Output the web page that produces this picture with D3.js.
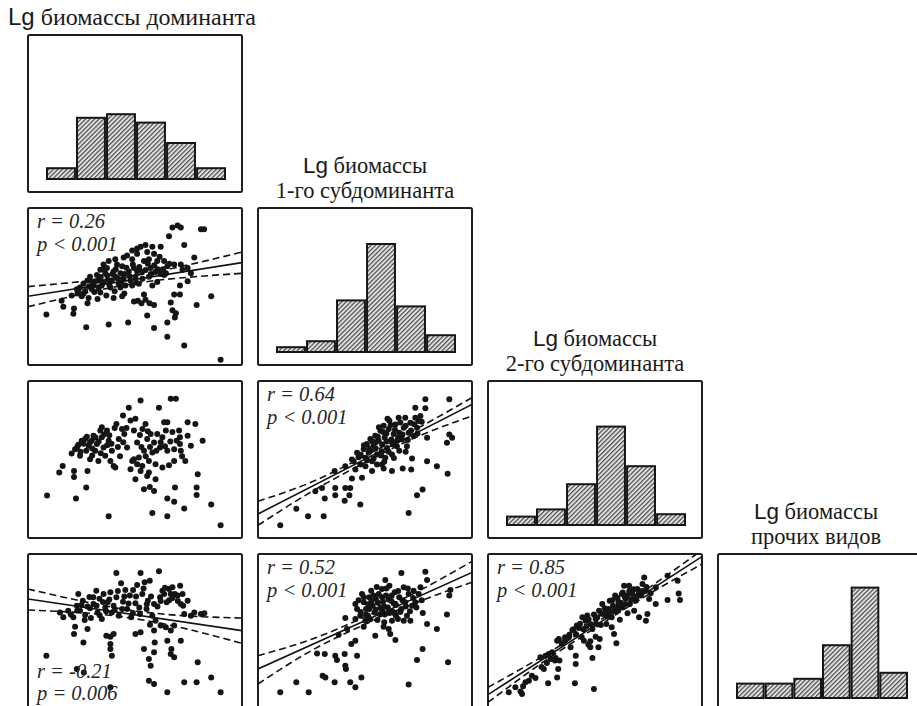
<!DOCTYPE html>
<html lang="ru">
<head>
<meta charset="utf-8">
<title>Lg биомассы</title>
<script src="https://cdn.jsdelivr.net/npm/d3@7"></script>
<style>
body { margin: 0; background: #fff; }
.ttl { font-size: 22.5px; fill: #1a1a1a; }
.stat { font-family: "Liberation Serif", "Times New Roman", serif; font-style: italic; font-size: 20.5px; fill: #262626; }
</style>
</head>
<body>
<script>
// titles of the variables (diagonal)
var titles = [
  ["Lg биомассы доминанта"],
  ["Lg биомассы", "1-го субдоминанта"],
  ["Lg биомассы", "2-го субдоминанта"],
  ["Lg биомассы", "прочих видов"]
];

// histogram counts, 6 bins each
var hist0 = [9, 51, 54, 47, 30, 9];
var hist1 = [4, 9, 43, 90, 38, 14];
var hist2 = [7, 13, 34, 82, 49, 9];
var hist3 = [12, 12, 16, 44, 92, 21];

// scatter points, [x, y] in 0..100 of the cell (row, col)
var pts10 = [[8.6,32.1],[16.5,37.1],[15.7,40.9],[21.2,32.6],[21.5,36.0],[20.4,44.3],[23.1,45.6],[27.2,24.0],[37.7,25.8],[46.8,27.0],
  [27.8,39.3],[28.3,42.7],[32.5,42.0],[36.6,44.3],[40.0,42.7],[44.0,43.8],[24.3,49.4],[25.9,51.7],[27.8,53.9],[29.0,56.2],
  [30.6,50.6],[32.2,57.3],[32.9,53.9],[33.8,60.7],[34.5,50.6],[36.1,58.4],[36.9,61.8],[37.7,53.9],[38.5,49.4],[40.0,59.6],
  [40.8,56.2],[41.6,64.0],[42.4,51.7],[43.2,58.4],[44.0,62.9],[44.7,55.1],[45.5,50.6],[46.3,69.7],[47.1,59.6],[47.9,53.9],
  [48.7,67.4],[49.5,61.8],[50.2,56.2],[51.0,70.8],[51.8,51.7],[52.6,75.3],[53.4,59.6],[54.2,66.3],[54.9,76.4],[55.7,71.9],
  [56.5,56.2],[57.3,61.8],[58.9,70.8],[59.6,59.3],[60.4,66.3],[62.0,75.3],[62.0,58.0],[63.6,66.3],[65.1,62.9],[65.9,82.0],
  [67.5,87.6],[69.9,88.8],[71.4,87.6],[80.8,86.5],[82.3,86.5],[73.0,76.4],[71.4,64.0],[72.2,60.7],[77.7,68.5],[76.1,58.4],
  [49.5,40.4],[51.3,40.9],[53.0,39.3],[54.9,41.6],[56.8,39.3],[58.9,38.2],[54.2,44.9],[55.7,31.5],[58.9,23.6],[65.1,27.0],
  [65.1,18.0],[68.6,30.3],[67.5,34.8],[66.7,39.8],[68.3,44.9],[71.0,44.9],[71.0,50.6],[73.0,12.4],[74.6,53.3],[85.6,43.8],
  [78.8,38.2],[90.0,3.4],[69.1,33.0],[26.7,47.2],[29.8,48.3],[31.4,53.3],[35.3,52.8],[39.2,53.9],[43.2,49.4],[48.7,50.6],
  [51.0,59.6],[58.1,50.6],[60.4,52.8],[63.6,57.3],[35.3,64.0],[37.7,66.3],[40.8,67.4],[44.7,68.5],[48.7,73.0],[51.0,74.2],
  [56.5,67.4],[58.1,75.3],[68.3,64.0],[74.6,61.8],[25.1,43.8],[33.8,46.1],[22.8,48.3],
  [28.5,50.0],[30.0,53.0],[31.0,46.5],[33.0,49.0],[34.0,56.0],[35.5,61.0],[37.0,57.0],[38.0,51.0],[39.5,58.0],[41.0,61.0],
  [42.0,55.0],[43.5,52.5],[45.0,58.0],[46.0,62.0],[47.5,56.5],[49.0,64.0],[50.5,52.5],[52.0,62.5],[53.5,55.0],[55.0,60.5],
  [56.0,64.5],[57.5,58.0],[59.0,63.5],[60.5,61.0],[61.5,69.0],[63.0,61.0],[64.5,58.5],[66.0,64.5],[23.5,47.0],[26.0,45.5],
  [40.5,47.0],[45.0,45.5]];

var pts20 = [[8.9,27.1],[22.4,25.2],[27.2,32.1],[37.7,13.9],[14.6,41.7],[16.2,45.9],[21.5,42.7],[21.5,38.9],[27.8,42.7],[20.4,53.8],
  [22.0,56.6],[23.5,59.4],[25.1,62.0],[24.3,52.4],[26.7,63.0],[27.2,55.6],[28.3,58.8],[29.0,50.2],[29.8,62.0],[30.6,65.2],
  [31.4,55.6],[32.2,59.8],[32.9,49.1],[33.8,68.4],[34.5,64.1],[34.5,70.5],[35.3,57.7],[36.1,52.4],[36.9,68.4],[37.7,62.0],
  [38.5,49.1],[39.2,55.6],[40.0,45.9],[40.8,44.9],[41.3,72.6],[42.4,63.0],[43.9,69.4],[44.4,78.0],[45.0,66.2],[46.3,57.7],
  [47.1,82.9],[47.9,74.8],[48.7,49.1],[49.5,68.4],[50.2,75.9],[51.0,60.9],[51.8,51.3],[52.3,65.6],[52.6,87.6],[52.6,42.7],
  [53.4,45.9],[54.2,55.6],[54.9,72.6],[55.7,63.0],[56.5,49.1],[56.5,41.7],[57.3,66.2],[58.1,54.5],[58.9,60.9],[59.6,47.0],
  [50.2,37.4],[55.7,39.5],[59.6,37.4],[54.2,31.0],[56.9,32.5],[58.9,29.9],[61.2,82.9],[61.7,57.7],[62.8,64.1],[62.8,44.9],
  [63.6,73.7],[65.1,73.7],[64.4,68.4],[65.1,55.6],[65.9,46.4],[66.7,88.7],[69.1,88.7],[67.5,67.5],[68.3,56.6],[68.3,49.1],
  [70.6,68.4],[71.0,64.1],[71.0,59.8],[71.4,55.6],[73.5,49.1],[74.6,73.7],[74.6,65.2],[76.1,58.8],[78.2,72.6],[81.6,62.0],
  [65.1,25.2],[68.3,23.1],[68.7,32.1],[73.0,18.8],[58.1,16.0],[65.1,13.9],[79.3,40.6],[78.8,32.1],[78.8,27.4],[85.6,21.4],
  [90.0,8.1],[49.5,50.2],[47.9,43.8],[51.0,47.0],[60.4,66.2],
  [23.0,58.0],[24.5,55.0],[26.0,60.0],[27.5,64.5],[29.0,61.0],[30.0,57.0],[31.5,64.0],[33.0,61.5],[34.0,54.0],[35.5,66.0],
  [37.0,59.0],[38.0,65.5],[39.0,60.0],[40.5,70.0],[42.0,58.0],[43.0,52.0],[44.5,61.0],[46.0,70.0],[53.0,58.0],[55.0,52.0],
  [57.0,58.0],[60.0,55.5],[62.0,61.0],[64.0,58.5],[66.5,61.5],[69.5,62.0],[72.0,52.0],[56.0,68.0],[53.5,69.5],[30.0,52.5]];

var pts30 = [[8.6,35.2],[41.3,87.9],[52.6,87.9],[61.2,89.0],[14.9,62.8],[16.5,59.7],[18.8,63.9],[21.2,59.7],[22.8,67.1],[23.5,74.5],
  [24.3,63.9],[25.6,70.3],[26.7,61.1],[27.8,66.5],[28.7,72.6],[29.4,59.2],[30.6,68.2],[31.9,76.6],[32.5,62.8],[33.4,71.5],
  [34.5,58.6],[35.3,74.5],[36.1,66.0],[37.2,69.2],[38.5,75.6],[39.2,62.8],[40.0,67.1],[41.3,72.4],[42.4,60.7],[43.5,81.3],
  [44.4,69.6],[45.5,77.0],[46.3,65.0],[47.6,73.5],[48.2,59.7],[49.1,77.0],[50.2,68.6],[51.0,80.3],[52.3,61.8],[53.4,74.5],
  [54.5,82.0],[55.4,65.0],[56.0,70.3],[56.9,83.0],[58.1,60.7],[58.9,68.2],[59.6,57.5],[61.7,72.4],[62.8,76.6],[63.6,74.5],
  [64.8,69.2],[65.9,77.7],[66.7,74.5],[67.5,78.8],[68.6,74.5],[69.9,73.5],[71.1,79.8],[71.4,68.2],[72.2,74.5],[73.0,61.8],
  [74.6,70.3],[76.1,60.7],[77.7,62.8],[80.8,61.8],[82.4,62.2],[68.3,54.4],[66.7,51.2],[64.4,53.3],[62.0,54.4],[58.9,51.2],
  [52.6,50.1],[50.2,49.0],[22.0,53.7],[21.5,49.0],[27.8,52.2],[25.9,43.7],[36.6,48.0],[38.5,47.3],[40.0,49.0],[38.5,42.7],
  [39.2,35.2],[38.5,39.5],[54.2,39.5],[56.5,33.1],[57.3,28.9],[58.9,37.4],[59.2,43.7],[65.1,44.8],[66.7,36.3],[68.3,34.2],
  [67.0,39.5],[71.4,44.8],[79.3,31.0],[85.6,21.4],[73.0,18.3],[78.8,18.3],[56.5,19.3],[58.9,17.2],[65.1,11.9],[90.0,11.9],
  [38.5,15.1],[22.8,26.8],[26.1,24.6],
  [20.0,61.5],[23.0,64.0],[25.0,67.5],[26.5,58.0],[29.0,65.5],[30.5,72.5],[32.0,67.0],[33.5,61.0],[35.0,69.5],[36.5,63.5],
  [38.0,71.0],[40.5,64.5],[42.0,76.5],[44.0,65.0],[45.0,73.0],[47.0,68.5],[49.0,62.5],[50.5,73.0],[52.0,66.0],[54.0,78.0],
  [55.5,68.0],[57.5,73.0],[60.5,66.5],[62.0,70.0],[64.0,78.5],[66.0,70.5],[67.5,72.0],[70.0,70.0],[72.5,67.0],[57.0,55.0]];

var pts21 = [[10.4,8.1],[17.9,18.7],[23.4,13.8],[30.7,13.8],[26.8,29.8],[29.9,31.9],[31.2,25.1],[36.1,31.9],[36.1,27.2],[40.8,31.9],
  [43.1,31.9],[42.7,27.2],[40.5,23.8],[47.8,21.3],[43.9,37.9],[35.8,42.6],[40.8,45.7],[44.7,48.9],[45.5,43.6],[48.6,38.3],
  [47.0,51.5],[43.9,50.0],[46.3,54.3],[47.8,46.8],[49.4,56.6],[50.2,51.1],[50.9,59.8],[51.7,54.3],[52.5,63.0],[53.3,48.9],
  [54.0,58.7],[54.8,65.1],[55.6,53.2],[56.4,61.9],[57.2,68.3],[57.9,55.3],[58.7,71.5],[59.2,64.0],[59.5,51.1],[60.3,57.4],
  [61.1,69.4],[61.4,74.7],[62.3,62.8],[62.6,53.2],[63.4,66.2],[64.2,72.3],[64.9,58.5],[65.7,76.6],[66.0,67.0],[67.3,62.8],
  [68.1,70.2],[68.8,76.6],[69.6,58.5],[70.4,67.0],[71.2,73.4],[72.0,50.6],[72.7,64.9],[73.5,76.6],[74.3,70.2],[75.1,74.5],
  [75.9,77.7],[73.5,83.0],[78.2,88.3],[78.2,82.6],[79.0,63.8],[79.0,48.9],[58.7,44.3],[62.6,42.6],[67.6,44.3],[71.6,43.6],
  [83.6,45.7],[88.6,40.9],[88.3,60.6],[89.4,66.0],[90.7,63.8],[89.4,88.3],[76.9,30.9],[74.3,27.2],[70.4,16.0],[55.6,46.8],
  [53.3,42.6],[57.9,46.8],[50.2,45.7],[55.0,61.0],[60.0,66.5],[65.5,64.0],[58.0,59.5],[52.0,57.0],
  [48.0,53.0],[49.5,59.0],[51.0,49.5],[52.5,55.5],[53.5,61.5],[55.0,57.0],[56.0,64.5],[57.5,52.5],[58.5,67.5],[60.0,61.5],
  [61.0,55.0],[62.0,72.0],[63.0,59.5],[64.0,69.0],[65.0,62.0],[66.5,73.5],[67.5,66.0],[69.0,71.5],[70.0,62.5],[71.5,68.5],
  [73.0,72.5],[74.5,66.5],[76.5,74.0],[54.0,50.5],[59.0,48.5],[63.5,51.0],[66.0,55.5],[69.0,55.0],[56.5,70.5],[60.5,76.0]];

var pts31 = [[10.4,11.9],[17.9,18.3],[23.7,11.9],[30.2,22.5],[31.5,21.4],[35.8,18.3],[43.1,18.3],[45.5,15.1],[48.3,21.4],[27.6,36.7],
  [31.2,36.3],[36.1,35.2],[36.9,32.5],[40.5,36.3],[40.8,28.9],[41.1,26.8],[46.3,35.2],[43.6,42.7],[45.5,44.8],[37.7,48.6],
  [41.6,52.2],[40.8,59.2],[45.5,58.6],[49.4,53.7],[54.8,48.0],[58.7,53.7],[61.1,52.2],[61.8,49.0],[64.2,45.2],[79.0,55.4],
  [83.6,52.2],[88.3,61.4],[76.9,39.5],[74.3,32.5],[88.8,31.0],[70.4,16.8],[67.0,87.9],[78.2,88.7],[79.0,83.4],[89.9,77.1],
  [89.4,73.5],[59.5,83.4],[48.6,74.5],[49.4,69.2],[50.5,65.0],[51.4,60.7],[52.0,72.4],[52.9,76.6],[53.6,67.1],[54.5,62.8],
  [55.1,71.3],[55.8,58.0],[56.4,74.5],[57.2,66.0],[57.9,77.7],[58.4,69.6],[59.2,61.4],[59.8,73.5],[60.7,66.0],[61.4,79.8],
  [62.3,70.0],[62.9,63.3],[63.9,75.6],[64.5,67.5],[65.4,58.6],[66.0,72.4],[67.0,65.0],[68.1,78.8],[68.8,69.2],[69.6,60.7],
  [70.4,74.5],[71.2,57.5],[72.0,67.1],[72.7,76.6],[73.5,69.2],[75.1,74.5],[75.9,78.8],[47.8,60.7],[46.3,65.0],[45.5,68.2],
  [50.2,57.5],[62.6,57.5],[68.1,57.5],[53.0,70.0],[58.0,64.0],[61.0,71.0],[64.0,62.0],
  [47.0,70.5],[48.0,63.0],[49.5,72.5],[50.5,61.5],[51.5,68.0],[52.5,58.5],[54.0,73.5],[55.0,64.5],[56.0,69.0],[57.0,61.5],
  [58.0,72.5],[59.0,66.5],[60.0,78.0],[61.5,62.5],[62.5,73.5],[63.5,68.5],[64.5,60.5],[65.5,76.5],[66.5,63.0],[67.5,70.5],
  [69.0,66.5],[70.0,78.0],[71.0,63.5],[72.5,72.0],[74.0,66.0],[76.5,70.5],[77.0,62.5],[55.5,79.0],[59.0,56.5],[52.0,65.0]];

var pts32 = [[9.7,11.9],[12.8,15.1],[16.4,15.7],[17.5,18.3],[19.1,19.3],[22.2,21.0],[15.9,10.8],[15.2,12.5],[28.1,17.6],[32.3,21.4],
  [40.6,17.6],[49.5,14.0],[32.8,26.8],[33.4,32.1],[31.6,33.8],[41.0,29.9],[48.8,33.8],[26.1,26.8],[24.5,34.2],[26.9,35.2],
  [28.4,36.3],[30.0,37.4],[32.3,44.8],[35.9,44.8],[37.8,46.9],[39.4,51.6],[41.0,49.0],[42.5,52.9],[43.8,46.9],[44.8,44.8],
  [46.9,42.3],[47.8,44.4],[47.8,40.6],[51.6,40.6],[52.2,45.9],[50.3,47.3],[45.6,57.5],[44.1,59.7],[46.4,60.9],[47.9,55.4],
  [48.8,52.2],[50.3,58.6],[51.9,63.9],[52.7,54.8],[53.4,68.2],[54.2,61.8],[55.3,55.4],[56.3,65.0],[56.9,70.3],[57.8,59.7],
  [58.4,67.1],[59.4,73.5],[59.7,63.3],[60.9,69.6],[61.6,58.2],[62.5,74.5],[62.8,66.0],[63.6,79.8],[64.4,71.3],[65.2,62.2],
  [65.9,79.8],[66.3,68.2],[67.5,74.5],[68.3,63.9],[69.1,70.3],[69.8,77.7],[70.6,59.7],[71.4,73.5],[72.2,80.9],[73.0,85.1],
  [73.8,76.6],[74.5,61.8],[75.3,71.3],[78.4,68.2],[78.4,78.8],[73.8,57.5],[58.9,49.0],[60.0,43.1],[57.8,53.3],[83.9,70.7],
  [83.9,86.2],[88.6,83.0],[89.1,74.9],[89.7,70.7],[33.1,45.9],[29.2,33.1],[31.3,32.1],[41.0,35.2],[38.6,40.6],[55.0,62.5],
  [61.0,67.0],[64.0,72.5],
  [40.0,52.0],[41.5,54.5],[43.0,55.5],[44.5,52.0],[46.0,54.0],[47.0,58.5],[49.5,61.5],[50.5,55.5],[51.0,59.5],[53.0,62.0],
  [54.5,65.5],[55.5,60.5],[57.0,63.0],[58.0,70.5],[59.0,64.5],[60.5,72.0],[61.0,65.0],[62.0,69.0],[63.0,75.5],[64.0,68.0],
  [65.0,73.5],[66.0,76.5],[67.0,71.0],[68.0,77.5],[69.5,73.0],[70.5,75.0],[72.0,76.5],[74.0,79.0],[76.0,75.0],[36.0,47.0],
  [34.5,43.0],[38.0,48.5],[20.5,22.5],[25.0,28.0],[27.5,30.5]];

// regression lines and confidence bands, [x, y] in 0..100
var fit10 = [[0,43.8],[100,65.2]];
var up10 = [[0,49.9],[25,53.1],[50,57.0],[75,63.8],[100,71.9]];
var lo10 = [[0,37.1],[25,45.2],[50,52.0],[75,55.9],[100,58.4]];

var fit30 = [[0,71.3],[100,51.2]];
var up30 = [[0,77.7],[25,70.0],[50,63.8],[75,60.5],[100,59.2]];
var lo30 = [[0,64.3],[25,62.6],[50,58.8],[75,52.0],[100,43.1]];

var fit21 = [[0,15.3],[100,85.1]];
var up21 = [[0,23.4],[25,35.6],[50,52.3],[75,70.2],[100,89.4]];
var lo21 = [[0,8.1],[25,29.5],[50,48.1],[75,64.8],[100,77.7]];

var fit31 = [[0,26.8],[100,88.3]];
var up31 = [[0,35.2],[25,45.7],[50,60.0],[75,76.4],[100,95.3]];
var lo31 = [[0,17.2],[25,38.5],[50,55.2],[75,69.6],[100,82.0]];

var fit32 = [[0,10.4],[100,98.3]];
var up32 = [[0,15.1],[25,34.4],[50,55.9],[75,78.3],[100,102.5]];
var lo32 = [[0,5.5],[25,30.4],[50,52.8],[75,74.3],[100,93.6]];

// correlation labels
var stat10 = ["r = 0.26", "p < 0.001"];
var stat21 = ["r = 0.64", "p < 0.001"];
var stat30 = ["r = -0.21", "p = 0.006"];
var stat31 = ["r = 0.52", "p < 0.001"];
var stat32 = ["r = 0.85", "p < 0.001"];

var w = 917, h = 706;
var cellW = 214, cellH = 157;
function cellLeft(c) { return 28 + 230 * c; }
function cellTop(r) { return 35 + 173 * r; }

var svg = d3.select("body").append("svg")
  .attr("width", w)
  .attr("height", h);

var defs = svg.append("defs");
var pat = defs.append("pattern")
  .attr("id", "hatch")
  .attr("patternUnits", "userSpaceOnUse")
  .attr("width", 3.2)
  .attr("height", 3.2)
  .attr("patternTransform", "rotate(45)");
pat.append("rect").attr("width", 3.2).attr("height", 3.2).attr("fill", "#e2e2e2");
pat.append("line").attr("x1", 0.6).attr("y1", 0).attr("x2", 0.6).attr("y2", 3.2)
  .attr("stroke", "#4a4a4a").attr("stroke-width", 1.2);

function cellScales(r, c) {
  var x = d3.scaleLinear().domain([0, 100]).range([cellLeft(c), cellLeft(c) + cellW]);
  var y = d3.scaleLinear().domain([0, 100]).range([cellTop(r) + cellH, cellTop(r)]);
  return { x: x, y: y };
}

function frame(r, c) {
  var id = "clip" + r + c;
  defs.append("clipPath").attr("id", id)
    .append("rect")
    .attr("x", cellLeft(c)).attr("y", cellTop(r))
    .attr("width", cellW).attr("height", cellH);
  svg.append("rect")
    .attr("x", cellLeft(c)).attr("y", cellTop(r))
    .attr("width", cellW).attr("height", cellH)
    .attr("rx", 1.5)
    .attr("fill", "none")
    .attr("stroke", "#1e1e1e")
    .attr("stroke-width", 2);
  return svg.append("g").attr("clip-path", "url(#" + id + ")");
}

// diagonal: titles + histograms
var hists = [hist0, hist1, hist2, hist3];
var titleShift = [0, 0, 0, -9];
var barSpan = [178, 178, 178, 170];
var countScale = d3.scaleLinear().domain([0, 100]).range([0, 120]);
var sans = "'Liberation Sans', Arial, sans-serif";
var serif = "'Liberation Serif', 'Times New Roman', serif";

hists.forEach(function(counts, i) {
  var left = cellLeft(i), top = cellTop(i);
  var g = frame(i, i);
  var xb = d3.scaleBand()
    .domain(d3.range(counts.length))
    .range([left + 19, left + 19 + barSpan[i]])
    .paddingInner(0.07);
  var base = top + cellH - 13;
  g.selectAll("rect.bar")
    .data(counts)
    .enter()
    .append("rect")
    .attr("class", "bar")
    .attr("x", function(d, k) { return xb(k); })
    .attr("y", function(d) { return base - countScale(d); })
    .attr("width", xb.bandwidth())
    .attr("height", function(d) { return countScale(d); })
    .attr("fill", "url(#hatch)")
    .attr("stroke", "#161616")
    .attr("stroke-width", 2);

  var lines = titles[i];
  var single = lines.length === 1;
  var tx = single ? 8 : left + cellW / 2 + titleShift[i];
  lines.forEach(function(line, k) {
    var y = single ? 25 : top - 35 + k * 25;
    var t = svg.append("text").attr("class", "ttl")
      .attr("x", tx).attr("y", y)
      .attr("text-anchor", single ? "start" : "middle")
      .style("font-size", single ? "24px" : null);
    if (line.indexOf("Lg ") === 0) {
      t.append("tspan").attr("font-family", sans).text("Lg");
      t.append("tspan").attr("font-family", serif).text(line.slice(2));
    } else {
      t.attr("font-family", serif).text(line);
    }
  });
});

// lower triangle: scatter plots
var cells = [
  { r: 1, c: 0, pts: pts10, fit: fit10, up: up10, lo: lo10, stat: stat10, statY: [20, 43] },
  { r: 2, c: 0, pts: pts20 },
  { r: 3, c: 0, pts: pts30, fit: fit30, up: up30, lo: lo30, stat: stat30, statY: [124, 146] },
  { r: 2, c: 1, pts: pts21, fit: fit21, up: up21, lo: lo21, stat: stat21, statY: [20, 43] },
  { r: 3, c: 1, pts: pts31, fit: fit31, up: up31, lo: lo31, stat: stat31, statY: [20, 43] },
  { r: 3, c: 2, pts: pts32, fit: fit32, up: up32, lo: lo32, stat: stat32, statY: [20, 43] }
];

cells.forEach(function(cell) {
  var s = cellScales(cell.r, cell.c);
  var g = frame(cell.r, cell.c);

  g.selectAll("circle")
    .data(cell.pts)
    .enter()
    .append("circle")
    .attr("cx", function(d) { return s.x(d[0]); })
    .attr("cy", function(d) { return s.y(d[1]); })
    .attr("r", 3)
    .attr("fill", "#151515");

  if (cell.fit) {
    var straight = d3.line()
      .x(function(d) { return s.x(d[0]); })
      .y(function(d) { return s.y(d[1]); });
    var curved = d3.line()
      .x(function(d) { return s.x(d[0]); })
      .y(function(d) { return s.y(d[1]); })
      .curve(d3.curveNatural);
    g.append("path").attr("d", straight(cell.fit))
      .attr("fill", "none").attr("stroke", "#111").attr("stroke-width", 1.6);
    [cell.up, cell.lo].forEach(function(b) {
      g.append("path").attr("d", curved(b))
        .attr("fill", "none").attr("stroke", "#111").attr("stroke-width", 1.6)
        .attr("stroke-dasharray", "7,4");
    });
    svg.selectAll(null)
      .data(cell.stat)
      .enter()
      .append("text")
      .attr("class", "stat")
      .attr("x", cellLeft(cell.c) + 9)
      .attr("y", function(d, k) { return cellTop(cell.r) + cell.statY[k]; })
      .text(function(d) { return d; });
  }
});
</script>
</body>
</html>
